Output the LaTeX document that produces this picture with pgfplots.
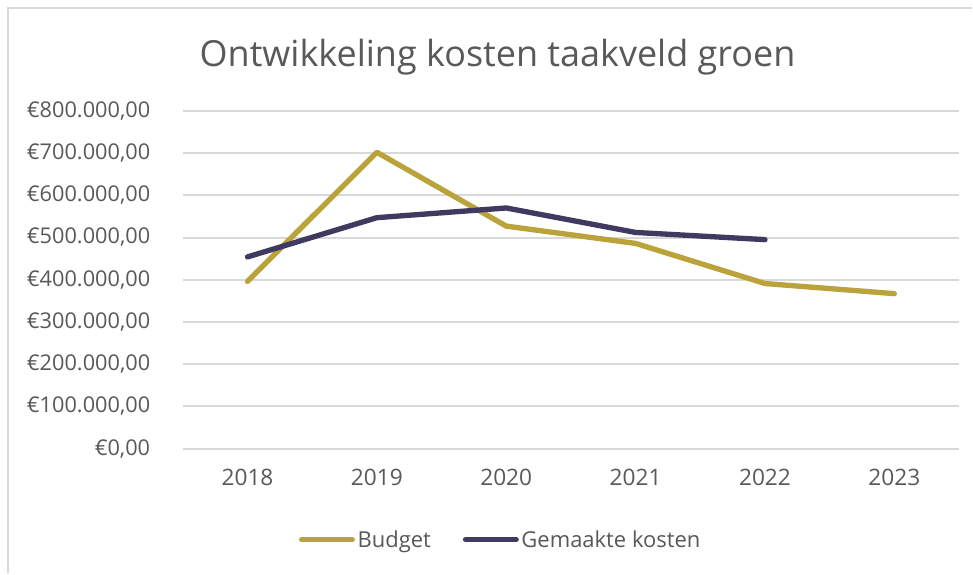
\documentclass[border=0pt]{standalone}
\usepackage{pgfplots}
\pgfplotsset{compat=1.18}
\usepackage{fontspec}
\setmainfont{Open Sans}
\definecolor{txt}{HTML}{595959}
\definecolor{gridc}{HTML}{D9D9D9}
\definecolor{budget}{HTML}{BBA33B}
\definecolor{gemaakt}{HTML}{3F3A60}
\begin{document}
\begin{tikzpicture}[x=0.75pt,y=0.75pt]
\path[fill=white] (0,0) rectangle (973,574);
\draw[gridc,line width=1.5pt] (8,0) -- (8,566) -- (973,566);
\node[txt,font=\fontsize{27}{32}\selectfont] at (498,517) {Ontwikkeling kosten taakveld groen};
\begin{axis}[
  at={(183*0.75pt,125*0.75pt)}, anchor=south west,
  scale only axis, width=777*0.75pt, height=338*0.75pt,
  xmin=2017.5, xmax=2023.5, ymin=0, ymax=800000,
  axis line style={draw=none},
  scaled y ticks=false,
  ytick={0,100000,200000,300000,400000,500000,600000,700000,800000},
  xtick={2018,2019,2020,2021,2022,2023},
  xticklabels={2018,2019,2020,2021,2022,2023},
  yticklabels={{€0,00},{€100.000,00},{€200.000,00},{€300.000,00},{€400.000,00},{€500.000,00},{€600.000,00},{€700.000,00},{€800.000,00}},
  xmajorgrids=false, ymajorgrids=true,
  y grid style={gridc,line width=1.5pt},
  major tick length=0pt,
  ticklabel style={txt},
  yticklabel style={font=\fontsize{16.3}{19}\selectfont,xshift=-21pt},
  xticklabel style={font=\fontsize{17}{20}\selectfont,yshift=-12pt},
  legend style={at={(0.41,-0.27)},anchor=center,draw=none,fill=none,
    legend columns=2,font=\fontsize{16.5}{19}\selectfont,text=txt,
    /tikz/every even column/.append style={column sep=22pt}},
  legend image code/.code={\draw[#1,line cap=round] (0pt,0pt) -- (38pt,0pt);},
  every axis plot/.append style={line width=4pt,line cap=round,line join=round},
  clip=false,
]
\addplot[budget] coordinates {(2018,396000) (2019,702000) (2020,527000) (2021,486000) (2022,391000) (2023,367000)};
\addlegendentry{Budget}
\addplot[gemaakt] coordinates {(2018,454000) (2019,547000) (2020,570000) (2021,512000) (2022,495000)};
\addlegendentry{Gemaakte kosten}
\end{axis}
\end{tikzpicture}
\end{document}
